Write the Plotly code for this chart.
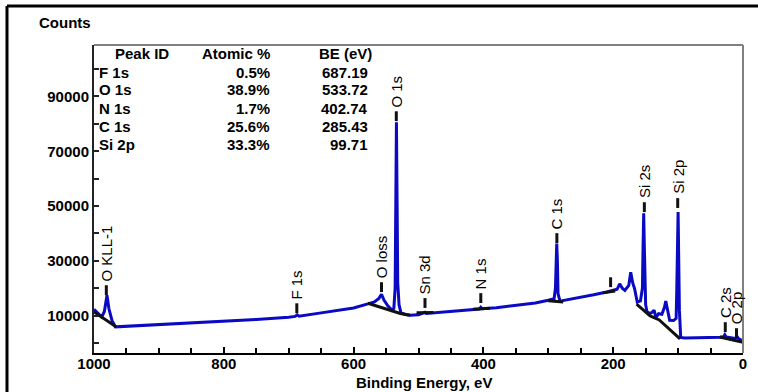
import plotly.graph_objects as go

# ---- spectrum (binding energy eV, counts) ----
spec_be = [1000, 992, 988, 984, 980, 977, 972, 967, 950, 900, 850, 800, 750, 700, 690, 687, 684,
           650, 600, 578, 568, 561, 557, 553, 547, 541, 538, 536, 535, 534, 533, 532, 530, 527,
           520, 513, 500, 492, 490, 488, 470, 450, 420, 406, 404, 402, 380, 350, 320, 300, 291,
           289, 288, 287, 286, 285, 282, 270, 250, 230, 210, 200, 194, 190, 186, 182, 176, 173,
           170, 167, 163, 158, 155, 154, 153, 152, 151, 150, 148, 144, 140, 137, 134, 130, 125,
           121, 119, 116, 113, 107, 103, 102, 101, 100, 99, 98, 96, 90, 70, 50, 35, 30, 28, 26,
           22, 14, 11, 9, 7, 4, 0]
spec_counts = [12300, 10400, 9500, 11500, 17400, 12500, 8000, 5900, 6100, 6700, 7200, 7800, 8600,
               9400, 9700, 10300, 9800, 11000, 12800, 14300, 15000, 16300, 17800, 15600, 13500,
               12000, 12600, 20000, 50000, 80600, 52000, 22000, 14000, 11000, 10400, 10100, 10300,
               10800, 11200, 10800, 11200, 11600, 12100, 12400, 13000, 12500, 12900, 13700, 14600,
               15600, 16200, 20000, 30000, 36300, 30000, 18000, 15300, 15800, 16600, 17600, 18600,
               19200, 19600, 21600, 20000, 19200, 21000, 25800, 22000, 19800, 15000, 15400, 20000,
               35000, 47400, 35000, 20000, 14000, 11500, 10700, 11200, 12000, 9300, 10700, 10500,
               13000, 15300, 12000, 8300, 8200, 9000, 20000, 37000, 47800, 30000, 12000, 2000,
               1800, 1900, 1950, 2100, 2300, 3000, 2200, 2000, 1700, 1800, 2300, 1600, 1200, 600]

# ---- background (Shirley-type) segments, None separates segments ----
bg_be = [1000, 966, None, 578, 528, 513, None, 503, 477, None, 416, 390, None, 300, 277, None,
         216, 197, None, 164, 143, 129, 97, None, 36, 0]
bg_counts = [11300, 5900, None, 14500, 10800, 10100, None, 11000, 11100, None, 12300, 12700, None,
             15400, 15000, None, 18300, 19000, None, 14200, 9900, 8400, 1500, None, 2200, 300]

# ---- peak labels ----
label_names = ["O KLL-1", "F 1s", "O loss", "O 1s", "Sn 3d", "N 1s", "C 1s", "", "Si 2s", "Si 2p", "C 2s", "O 2p"]
label_be = [981, 687.5, 557, 534.2, 490, 404, 286.8, 204, 152, 100.6, 27.3, 10]
label_base = [17500, 10900, 18600, 81000, 12800, 14600, 36500, 20400, 47800, 49300, 4000, 1800]

# ---- quantification table ----
table_peaks = ["F 1s", "O 1s", "N 1s", "C 1s", "Si 2p"]
table_atomic = ["0.5%", "38.9%", "1.7%", "25.6%", "33.3%"]
table_be = ["687.19", "533.72", "402.74", "285.43", "99.71"]

# ---- x / y ticks ----
x_tick_vals = [1000, 800, 600, 400, 200, 0]
y_tick_vals = [10000, 30000, 50000, 70000, 90000]

FONT = "Liberation Sans, Arial, sans-serif"
MARK_LEN = 3600

fig = go.Figure()
fig.add_trace(go.Scatter(x=spec_be, y=spec_counts, mode="lines",
                         line=dict(color="#0a0ac4", width=3), hoverinfo="skip", showlegend=False))
fig.add_trace(go.Scatter(x=bg_be, y=bg_counts, mode="lines",
                         line=dict(color="#111111", width=3), hoverinfo="skip", showlegend=False))

mx, my = [], []
for e, b in zip(label_be, label_base):
    mx += [e, e, None]
    my += [b, b + MARK_LEN, None]
fig.add_trace(go.Scatter(x=mx, y=my, mode="lines", line=dict(color="#111111", width=3),
                         hoverinfo="skip", showlegend=False))

annotations = []
for name, e, b in zip(label_names, label_be, label_base):
    if not name:
        continue
    annotations.append(dict(x=e, y=b + MARK_LEN, xref="x", yref="y", text=name, textangle=-90,
                            showarrow=False, xanchor="center", yanchor="bottom", yshift=3,
                            borderpad=0, font=dict(family=FONT, size=15, color="black")))

# table (paper coordinates derived from pixel layout)
L, T, W, H = 94, 45, 649, 308
def px(xp):
    return (xp - L) / W
def py(yp):
    return (T + H - yp) / H

tfont = dict(family=FONT, size=15, color="black", weight="bold")
annotations.append(dict(x=px(113), y=py(53), xref="paper", yref="paper", text="Peak ID",
                        showarrow=False, xanchor="left", yanchor="middle", font=tfont))
annotations.append(dict(x=px(272), y=py(53), xref="paper", yref="paper", text="Atomic %",
                        showarrow=False, xanchor="right", yanchor="middle", font=tfont))
annotations.append(dict(x=px(317), y=py(53), xref="paper", yref="paper", text="BE (eV)",
                        showarrow=False, xanchor="left", yanchor="middle", font=tfont))
for i, (p, a, b) in enumerate(zip(table_peaks, table_atomic, table_be)):
    yy = py(72 + 18 * i)
    annotations.append(dict(x=px(97), y=yy, xref="paper", yref="paper", text=p, showarrow=False,
                            xanchor="left", yanchor="middle", font=tfont))
    annotations.append(dict(x=px(272), y=yy, xref="paper", yref="paper", text=a, showarrow=False,
                            xanchor="right", yanchor="middle", font=tfont))
    annotations.append(dict(x=px(370), y=yy, xref="paper", yref="paper", text=b, showarrow=False,
                            xanchor="right", yanchor="middle", font=tfont))

annotations.append(dict(x=px(37), y=py(22), xref="paper", yref="paper", text="Counts",
                        showarrow=False, xanchor="left", yanchor="middle", font=tfont))
annotations.append(dict(x=px(424), y=py(382), xref="paper", yref="paper", text="Binding Energy, eV",
                        showarrow=False, xanchor="center", yanchor="middle", font=tfont))

shapes = [
    # plot frame top / right (gray)
    dict(type="line", xref="paper", yref="paper", x0=0, x1=1, y0=1, y1=1,
         line=dict(color="#808080", width=2)),
    dict(type="line", xref="paper", yref="paper", x0=1, x1=1, y0=0, y1=1,
         line=dict(color="#808080", width=2)),
    # outer frame top / left (black)
    dict(type="line", xref="paper", yref="paper", x0=px(7), x1=px(762), y0=py(6), y1=py(6),
         line=dict(color="black", width=3)),
    dict(type="line", xref="paper", yref="paper", x0=px(7), x1=px(7), y0=py(6), y1=py(396),
         line=dict(color="black", width=3)),
]

tickfont = dict(family=FONT, size=15, color="black", weight="bold")
fig.update_layout(
    width=758, height=392,
    margin=dict(l=L, r=758 - L - W, t=T, b=392 - T - H),
    paper_bgcolor="white", plot_bgcolor="white",
    font=dict(family=FONT, size=15, color="black"),
    annotations=annotations, shapes=shapes, showlegend=False,
    xaxis=dict(range=[1000, 0], tickmode="array", tickvals=x_tick_vals,
               ticktext=[str(v) for v in x_tick_vals],
               ticks="inside", ticklen=6, tickwidth=1.5, tickcolor="black",
               ticklabelstandoff=-4,
               minor=dict(dtick=50, tick0=0, ticks="inside", ticklen=5, tickwidth=1.5, tickcolor="black"),
               showline=True, linecolor="black", linewidth=2, showgrid=False, zeroline=False,
               tickfont=tickfont),
    yaxis=dict(range=[-3650, 108800], tickmode="array", tickvals=y_tick_vals,
               ticktext=[str(v) for v in y_tick_vals],
               ticks="inside", ticklen=5, tickwidth=1.5, tickcolor="#222",
               minor=dict(dtick=10000, tick0=0, ticks="inside", ticklen=5, tickwidth=1.5, tickcolor="#222"),
               showline=True, linecolor="#222", linewidth=2, showgrid=False, zeroline=False,
               tickfont=tickfont),
)

fig.write_html("out.html", config={"displayModeBar": False},
               post_script="document.body.style.margin='0';document.body.style.overflow='hidden';")
